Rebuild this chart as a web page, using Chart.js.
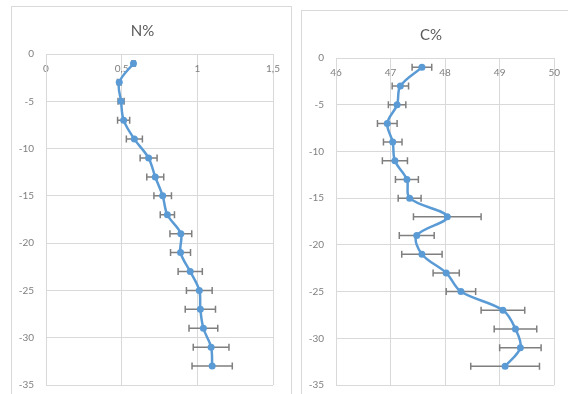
<!DOCTYPE html>
<html>
<head>
<meta charset="utf-8">
<script src="https://cdn.jsdelivr.net/npm/chart.js@4"></script>
<style>
  html, body { margin: 0; padding: 0; background: #fff; }
  body { width: 568px; height: 394px; position: relative; overflow: hidden; }
  .card { position: absolute; border: 1px solid #d9d9d9; background: #fff; box-sizing: border-box; }
  .card canvas { position: absolute; left: 0; top: 0; }
</style>
</head>
<body>
<div class="card" id="cardN" style="left:11px; top:6px; width:281px; height:410px;">
  <canvas id="chartN" width="281" height="396"></canvas>
</div>
<div class="card" id="cardC" style="left:301px; top:10px; width:280px; height:410px;">
  <canvas id="chartC" width="267" height="392"></canvas>
</div>
<script>
// Sampling depths (cm, negative downward)
const depth = [-1, -3, -5, -7, -9, -11, -13, -15, -17, -19, -21, -23, -25, -27, -29, -31, -33];

// Nitrogen content (%) and its error (±)
const nPct = [0.578, 0.484, 0.496, 0.513, 0.584, 0.678, 0.722, 0.771, 0.802, 0.891, 0.889, 0.953, 1.013, 1.02, 1.04, 1.091, 1.098];
const nErr = [0.01, 0.012, 0.02, 0.04, 0.053, 0.056, 0.056, 0.058, 0.047, 0.072, 0.066, 0.08, 0.085, 0.1, 0.095, 0.118, 0.133];

// Carbon content (%) and its error (±)
const cPct = [47.575, 47.18, 47.12, 46.94, 47.04, 47.08, 47.30, 47.35, 48.04, 47.48, 47.575, 48.02, 48.29, 49.06, 49.29, 49.38, 49.10];
const cErr = [0.18, 0.15, 0.16, 0.18, 0.17, 0.23, 0.21, 0.21, 0.62, 0.32, 0.37, 0.24, 0.27, 0.40, 0.39, 0.38, 0.63];

// Axis tick labels
const nTicks = ['0', '0,5', '1', '1,5'];
const nTickValues = [0, 0.5, 1, 1.5];
const cTicks = ['46', '47', '48', '49', '50'];
const cTickValues = [46, 47, 48, 49, 50];
const depthTicks = ['0', '-5', '-10', '-15', '-20', '-25', '-30', '-35'];

const BLUE = '#5b9bd5';
const GRID = '#d9d9d9';
const TEXT = '#7f7f7f';
const FONT = "Lato, 'Open Sans', sans-serif";

// Horizontal error bars with caps, drawn under the series
const errorBars = {
  id: 'errorBars',
  beforeDatasetsDraw(chart) {
    const { ctx, scales: { x, y } } = chart;
    const ds = chart.data.datasets[0];
    const errs = ds.xErr || [];
    ctx.save();
    ctx.strokeStyle = '#7f7f7f';
    ctx.lineWidth = 1.5;
    ds.data.forEach((p, i) => {
      const e = errs[i];
      if (!e) return;
      const x1 = x.getPixelForValue(p.x - e);
      const x2 = x.getPixelForValue(p.x + e);
      const py = y.getPixelForValue(p.y);
      ctx.beginPath();
      ctx.moveTo(x1, py); ctx.lineTo(x2, py);
      ctx.moveTo(x1, py - 3.5); ctx.lineTo(x1, py + 3.5);
      ctx.moveTo(x2, py - 3.5); ctx.lineTo(x2, py + 3.5);
      ctx.stroke();
    });
    ctx.restore();
  }
};

function makeChart(id, title, values, errs, xmin, xmax, tickValues, tickLabels, pad) {
  const points = values.map((v, i) => ({ x: v, y: depth[i] }));
  return new Chart(document.getElementById(id), {
    type: 'scatter',
    data: {
      datasets: [{
        data: points,
        xErr: errs,
        showLine: true,
        borderColor: BLUE,
        borderWidth: 2.5,
        tension: 0.35,
        pointRadius: 3.5,
        pointBackgroundColor: BLUE,
        pointBorderColor: BLUE,
        pointBorderWidth: 0
      }]
    },
    options: {
      responsive: false,
      animation: false,
      layout: { padding: pad },
      plugins: {
        legend: { display: false },
        tooltip: { enabled: false },
        title: {
          display: true,
          text: title,
          color: '#595959',
          font: { family: FONT, size: 15, weight: 'normal' },
          padding: { top: 15, bottom: 14 }
        }
      },
      scales: {
        x: {
          type: 'linear',
          position: { y: 0 },
          min: xmin,
          max: xmax,
          afterBuildTicks(scale) {
            scale.ticks = tickValues.map(v => ({ value: v }));
          },
          // labels sit inside the plot under the zero line, so reserve no room
          afterFit(scale) { scale.height = 0; },
          ticks: {
            color: TEXT,
            font: { family: FONT, size: 10 },
            padding: 9,
            callback: (v) => tickLabels[tickValues.indexOf(v)]
          },
          grid: { color: GRID, lineWidth: 1, drawTicks: false },
          border: { color: GRID }
        },
        y: {
          type: 'linear',
          position: 'left',
          min: -35,
          max: 0,
          ticks: {
            stepSize: 5,
            color: TEXT,
            font: { family: FONT, size: 10 },
            padding: 12,
            callback: (v) => depthTicks[Math.round(-v / 5)]
          },
          afterFit(scale) { scale.width = 34 - (pad.left || 0); },
          grid: { color: GRID, lineWidth: 1, drawTicks: false },
          border: { color: GRID }
        }
      }
    },
    plugins: [errorBars]
  });
}

makeChart('chartN', 'N%', nPct, nErr, 0, 1.5, nTickValues, nTicks, { left: 0, right: 20, top: 0, bottom: 10 });
makeChart('chartC', 'C%', cPct, cErr, 46, 50, cTickValues, cTicks, { left: 0, right: 9, top: 0, bottom: 11 });
</script>
</body>
</html>
